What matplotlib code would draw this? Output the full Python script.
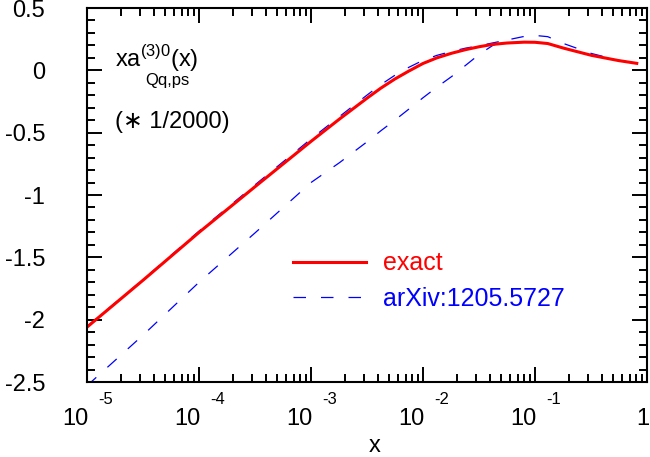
import matplotlib
matplotlib.use("Agg")
import matplotlib.pyplot as plt
import matplotlib.transforms as mtransforms
from matplotlib.ticker import LogLocator, MultipleLocator, NullFormatter, FuncFormatter

plt.rcParams['font.family'] = ['Liberation Sans', 'DejaVu Sans']
plt.rcParams['axes.unicode_minus'] = False

# exact curve
x_exact = [1e-5, 3.2e-5, 1e-4, 3.2e-4, 1e-3, 1.8e-3, 3.2e-3, 4.2e-3, 5.6e-3, 7.5e-3,
           1e-2, 1.33e-2, 1.8e-2, 2.4e-2, 3.2e-2, 4.2e-2, 5.6e-2, 0.08, 0.1, 0.13,
           0.18, 0.32, 0.56, 0.81]
y_exact = [-2.06, -1.68, -1.30, -0.93, -0.57, -0.39, -0.22, -0.143, -0.07, -0.005,
           0.055, 0.10, 0.137, 0.166, 0.19, 0.208, 0.219, 0.226, 0.225, 0.215,
           0.178, 0.12, 0.078, 0.056]

# arXiv:1205.5727, lower branch (continues to large x)
x_arx_lo = [1e-5, 3.2e-5, 1e-4, 3.2e-4, 1e-3, 1.8e-3, 3.2e-3, 4.2e-3, 5.6e-3, 7.5e-3,
            1e-2, 1.33e-2, 1.8e-2, 2.4e-2, 3.2e-2, 4.2e-2, 5.6e-2, 0.08, 0.1, 0.13,
            0.18, 0.32, 0.56, 0.81]
y_arx_lo = [-2.53, -2.12, -1.70, -1.30, -0.90, -0.74, -0.57, -0.485, -0.40, -0.31,
            -0.22, -0.135, -0.05, 0.04, 0.13, 0.20, 0.243, 0.272, 0.28, 0.27,
            0.215, 0.135, 0.08, 0.056]

# arXiv:1205.5727, upper branch (small x, joins the lower one)
x_arx_hi = [1e-5, 3.2e-5, 1e-4, 3.2e-4, 1e-3, 1.8e-3, 3.2e-3, 4.2e-3, 5.6e-3, 7.5e-3,
            1e-2, 1.33e-2, 1.8e-2, 2.4e-2, 3.2e-2, 4.2e-2, 5.6e-2]
y_arx_hi = [-2.055, -1.675, -1.29, -0.915, -0.55, -0.37, -0.195, -0.115, -0.04, 0.025,
            0.08, 0.12, 0.152, 0.178, 0.198, 0.22, 0.243]

xtick_vals = [1e-5, 1e-4, 1e-3, 1e-2, 1e-1]
xtick_exps = ['-5', '-4', '-3', '-2', '-1']

W, H = 650, 457
fig = plt.figure(figsize=(W / 100, H / 100), dpi=100)
ax = fig.add_axes([87 / W, (H - 382) / H, 560 / W, 374 / H])

dash = (10, 12)
ax.plot(x_arx_lo, y_arx_lo, color='blue', lw=0.9, dashes=dash, label='arXiv:1205.5727')
ax.plot(x_arx_hi, y_arx_hi, color='blue', lw=0.9, dashes=dash)
ax.plot(x_exact, y_exact, color='red', lw=2.2, label='exact')

ax.set_xscale('log')
ax.set_xlim(1e-5, 1)
ax.set_ylim(-2.5, 0.5)

ax.yaxis.set_major_locator(MultipleLocator(0.5))
ax.yaxis.set_minor_locator(MultipleLocator(0.1))
ax.yaxis.set_major_formatter(FuncFormatter(lambda v, p: '%g' % round(v, 2)))
ax.xaxis.set_major_locator(LogLocator(base=10, numticks=10))
ax.xaxis.set_minor_locator(LogLocator(base=10, subs=range(2, 10), numticks=20))
ax.xaxis.set_major_formatter(NullFormatter())
ax.xaxis.set_minor_formatter(NullFormatter())

ax.tick_params(which='both', direction='in', top=True, right=True, width=1.4)
ax.tick_params(which='major', length=11)
ax.tick_params(which='minor', length=5.5)
ax.tick_params(axis='y', labelsize=17, pad=30)
for s in ax.spines.values():
    s.set_linewidth(1.5)

# x tick labels drawn as 10 with raised exponent
trans = mtransforms.blended_transform_factory(ax.transData, fig.transFigure)
for v, e in zip(xtick_vals, xtick_exps):
    off1 = mtransforms.ScaledTranslation(2 / 100, 0, fig.dpi_scale_trans)
    off2 = mtransforms.ScaledTranslation(11 / 100, 0, fig.dpi_scale_trans)
    ax.text(v, (H - 425) / H, '10', transform=trans + off1, ha='right',
            va='baseline', fontsize=17, clip_on=False)
    ax.text(v, (H - 404) / H, e, transform=trans + off2, ha='left',
            va='baseline', fontsize=12, clip_on=False)
off_one = mtransforms.ScaledTranslation(-4 / 100, 0, fig.dpi_scale_trans)
ax.text(1, (H - 425) / H, '1', transform=trans + off_one, ha='center', va='baseline',
        fontsize=17, clip_on=False)

fig.text(375 / W, (H - 452) / H, 'x', ha='center', va='baseline', fontsize=17)

# curve label
fig.text(115 / W, (H - 67) / H, r'xa$^{\mathregular{(3)0}}$(x)', fontsize=17, va='baseline')
fig.text(145 / W, (H - 85) / H, 'Qq,ps', fontsize=12, va='baseline')
fig.text(115 / W, (H - 128) / H, '(\u2217 1/2000)', fontsize=17, va='baseline')

handles, labels = ax.get_legend_handles_labels()
ax.legend(handles[::-1], labels[::-1], loc='center left',
          bbox_to_anchor=(293 / W, (H - 281) / H), bbox_transform=fig.transFigure,
          frameon=False, fontsize=18, handlelength=2.9, handletextpad=0.7,
          labelspacing=0.45, borderpad=0, borderaxespad=0, labelcolor='linecolor')

fig.savefig('out.png', dpi=100)
